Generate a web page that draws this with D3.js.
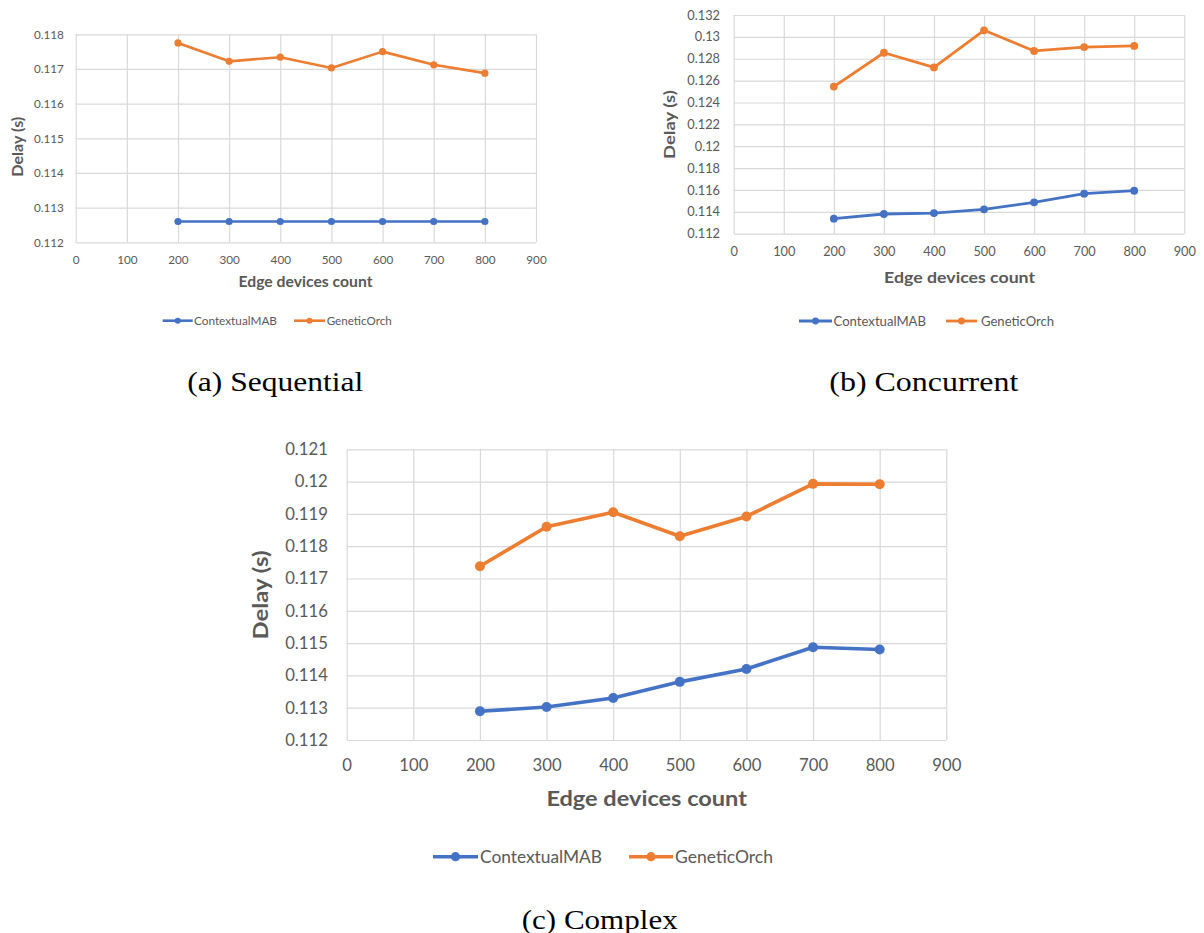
<!DOCTYPE html>
<html>
<head>
<meta charset="utf-8">
<script src="https://cdn.jsdelivr.net/npm/d3@7"></script>
<style>
  body { margin: 0; background: #fff; }
  svg { display: block; }
</style>
</head>
<body>
<svg id="fig" width="1204" height="933"></svg>
<script>
// ---- data ----
const edgeDevices = [200, 300, 400, 500, 600, 700, 800];
const xTickValues = [0, 100, 200, 300, 400, 500, 600, 700, 800, 900];
const seriesNames = ["ContextualMAB", "GeneticOrch"];
const seriesColors = ["#4472C4", "#ED7D31"];

// (a) sequential workflows
const seqContextualMAB = [0.1126, 0.1126, 0.1126, 0.1126, 0.1126, 0.1126, 0.1126];
const seqGeneticOrch   = [0.11775, 0.11722, 0.11734, 0.11703, 0.1175, 0.11712, 0.11688];
const seqYTicks = [0.112, 0.113, 0.114, 0.115, 0.116, 0.117, 0.118];

// (b) concurrent workflows
const concContextualMAB = [0.11337, 0.1138, 0.11389, 0.11423, 0.11487, 0.11566, 0.11593];
const concGeneticOrch   = [0.12545, 0.12855, 0.12721, 0.1306, 0.12871, 0.12907, 0.12917];
const concYTicks = [0.112, 0.114, 0.116, 0.118, 0.12, 0.122, 0.124, 0.126, 0.128, 0.13, 0.132];

// (c) complex workflows
const complexContextualMAB = [0.11289, 0.11302, 0.1133, 0.1138, 0.1142, 0.11487, 0.1148];
const complexGeneticOrch   = [0.11738, 0.1186, 0.11905, 0.11831, 0.11892, 0.11993, 0.11992];
const complexYTicks = [0.112, 0.113, 0.114, 0.115, 0.116, 0.117, 0.118, 0.119, 0.12, 0.121];

const captions = ["(a) Sequential", "(b) Concurrent", "(c) Complex"];
const xAxisTitle = "Edge devices count";
const yAxisTitle = "Delay (s)";

// ---- layout of the three panels ----
const panels = [
  {
    series: [seqContextualMAB, seqGeneticOrch], yTicks: seqYTicks, caption: captions[0],
    plot: { x0: 75.7, x1: 536, y0: 34.3, y1: 242.3 },
    tickFont: 11.7, yPad: 11.8, xPad: 13,
    xTitle: { x: 305.5, y: 281.4, size: 14.5, len: 134 },
    yTitle: { x: 17.5, y: 146.7, size: 14.5, len: 60 },
    lineW: 2.6, r: 3.6,
    legend: { y: 320.7, size: 11.5, lineW: 2.6, r: 3,
      items: [ { x0: 162.7, x1: 192.7, tx: 194, tlen: 83 }, { x0: 294, x1: 325, tx: 326.7, tlen: 65 } ] },
    cap: { x: 187.3, y: 390.5, len: 176 }
  },
  {
    series: [concContextualMAB, concGeneticOrch], yTicks: concYTicks, caption: captions[1],
    plot: { x0: 733.7, x1: 1184.3, y0: 15, y1: 233.7 },
    tickFont: 12.8, yPad: 13.7, xPad: 13.7,
    xTitle: { x: 959.6, y: 276.4, size: 16, len: 151 },
    yTitle: { x: 668.9, y: 124.6, size: 16, len: 68.7 },
    lineW: 2.8, r: 3.9,
    legend: { y: 321, size: 12.8, lineW: 2.8, r: 3.4,
      items: [ { x0: 799, x1: 832, tx: 833.5, tlen: 92.5 }, { x0: 946, x1: 977, tx: 981, tlen: 73 } ] },
    cap: { x: 829.3, y: 390.5, len: 189 }
  },
  {
    series: [complexContextualMAB, complexGeneticOrch], yTicks: complexYTicks, caption: captions[2],
    plot: { x0: 346.7, x1: 946.3, y0: 449.3, y1: 740 },
    tickFont: 16.7, yPad: 18.9, xPad: 19,
    xTitle: { x: 646.7, y: 797.5, size: 21, len: 200.6 },
    yTitle: { x: 259.4, y: 595, size: 21, len: 89 },
    lineW: 3.6, r: 5,
    legend: { y: 856.7, size: 16.5, lineW: 3.6, r: 4.6,
      items: [ { x0: 433, x1: 478, tx: 480, tlen: 122 }, { x0: 629, x1: 673, tx: 675, tlen: 98 } ] },
    cap: { x: 521.7, y: 928.5, len: 156 }
  }
];

const svg = d3.select("#fig");
const sansFont = "Lato, 'Open Sans', 'Liberation Sans', sans-serif";
const serifFont = "'Liberation Serif', 'DejaVu Serif', serif";
const gridColor = "#d9d9d9";
const textGray = "#595959";
const fmt = v => String(+v.toFixed(3));

panels.forEach(p => {
  const g = svg.append("g");
  const { x0, x1, y0, y1 } = p.plot;
  const w = x1 - x0, h = y1 - y0;

  const x = d3.scaleLinear().domain([xTickValues[0], xTickValues[xTickValues.length - 1]]).range([x0, x1]);
  const y = d3.scaleLinear().domain([p.yTicks[0], p.yTicks[p.yTicks.length - 1]]).range([y1, y0]);

  // horizontal gridlines + y tick labels
  const yAxis = g.append("g")
    .attr("transform", `translate(${x0},0)`)
    .call(d3.axisLeft(y).tickValues(p.yTicks).tickFormat(fmt).tickSize(-w).tickPadding(p.yPad));
  // vertical gridlines + x tick labels
  const xAxis = g.append("g")
    .attr("transform", `translate(0,${y1})`)
    .call(d3.axisBottom(x).tickValues(xTickValues).tickFormat(d3.format("d")).tickSize(-h).tickPadding(p.xPad));

  [yAxis, xAxis].forEach(ax => {
    ax.select(".domain").remove();
    ax.selectAll(".tick line").attr("stroke", gridColor).attr("stroke-width", 1.2);
    ax.selectAll(".tick text")
      .attr("fill", textGray)
      .style("font-family", sansFont)
      .style("font-size", p.tickFont + "px");
  });

  // axis titles
  g.append("text")
    .attr("x", p.xTitle.x).attr("y", p.xTitle.y)
    .attr("text-anchor", "middle").attr("dominant-baseline", "central")
    .attr("textLength", p.xTitle.len).attr("lengthAdjust", "spacingAndGlyphs")
    .style("font-family", sansFont).style("font-weight", "bold")
    .style("font-size", p.xTitle.size + "px").attr("fill", textGray)
    .text(xAxisTitle);
  g.append("text")
    .attr("transform", `translate(${p.yTitle.x},${p.yTitle.y}) rotate(-90)`)
    .attr("text-anchor", "middle").attr("dominant-baseline", "central")
    .attr("textLength", p.yTitle.len).attr("lengthAdjust", "spacingAndGlyphs")
    .style("font-family", sansFont).style("font-weight", "bold")
    .style("font-size", p.yTitle.size + "px").attr("fill", textGray)
    .text(yAxisTitle);

  // series lines and markers
  const line = d3.line().x((d, i) => x(edgeDevices[i])).y(d => y(d));
  p.series.forEach((vals, si) => {
    g.append("path")
      .datum(vals)
      .attr("d", line)
      .attr("fill", "none")
      .attr("stroke", seriesColors[si])
      .attr("stroke-width", p.lineW)
      .attr("stroke-linejoin", "round")
      .attr("stroke-linecap", "round");
    g.selectAll(null)
      .data(vals)
      .join("circle")
      .attr("cx", (d, i) => x(edgeDevices[i]))
      .attr("cy", d => y(d))
      .attr("r", p.r)
      .attr("fill", seriesColors[si]);
  });

  // legend
  const L = p.legend;
  L.items.forEach((it, si) => {
    g.append("line")
      .attr("x1", it.x0).attr("x2", it.x1).attr("y1", L.y).attr("y2", L.y)
      .attr("stroke", seriesColors[si]).attr("stroke-width", L.lineW);
    g.append("circle")
      .attr("cx", (it.x0 + it.x1) / 2).attr("cy", L.y).attr("r", L.r)
      .attr("fill", seriesColors[si]);
    g.append("text")
      .attr("x", it.tx).attr("y", L.y)
      .attr("dominant-baseline", "central")
      .attr("textLength", it.tlen).attr("lengthAdjust", "spacingAndGlyphs")
      .style("font-family", sansFont).style("font-size", L.size + "px")
      .attr("fill", textGray)
      .text(seriesNames[si]);
  });

  // caption below the panel
  svg.append("text")
    .attr("x", p.cap.x).attr("y", p.cap.y)
    .attr("textLength", p.cap.len).attr("lengthAdjust", "spacingAndGlyphs")
    .style("font-family", serifFont).style("font-size", "27px")
    .attr("fill", "#000")
    .text(p.caption);
});
</script>
</body>
</html>
